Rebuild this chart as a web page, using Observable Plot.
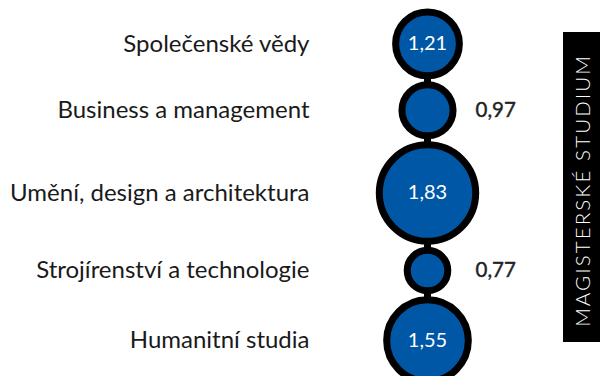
<!DOCTYPE html>
<html>
<head>
<meta charset="utf-8">
<script src="https://cdn.jsdelivr.net/npm/d3@7"></script>
<script src="https://cdn.jsdelivr.net/npm/@observablehq/plot@0.6"></script>
<style>
  html, body { margin: 0; padding: 0; background: #fff; }
  #wrap { position: relative; width: 600px; height: 376px; overflow: hidden; font-family: Lato, sans-serif; }
  #band { position: absolute; left: 563px; top: 32px; width: 37px; height: 310px; background: #000;
          display: flex; align-items: center; justify-content: center; }
  #band span { color: #fff; font-family: Lato, sans-serif; font-size: 20.5px; font-weight: 300; letter-spacing: 2.1px; writing-mode: vertical-rl; transform: rotate(180deg) translateY(-3px); white-space: nowrap; }
</style>
</head>
<body>
<div id="wrap"><div id="band"><span id="bandText"></span></div></div>
<script>
const categories = ["Společenské vědy", "Business a management", "Umění, design a architektura", "Strojírenství a technologie", "Humanitní studia"];
const values = [1.21, 0.97, 1.83, 0.77, 1.55];
const valueLabels = ["1,21", "0,97", "1,83", "0,77", "1,55"];
const groupLabel = "MAGISTERSKÉ STUDIUM";

document.getElementById("bandText").textContent = groupLabel;

// layout constants
const rMax = 48.2;          // radius (stroke centre) for max value
const strokeW = 7;
const gap = 2;
const topPad = 8;
const rDomainMax = d3.max(values);
const rPx = v => v / rDomainMax * rMax;

// stack circles vertically (derived from data through the radius mapping)
const outer = values.map(v => rPx(v) + strokeW / 2);
const centers = [];
values.forEach((v, i) => {
  if (i === 0) centers.push(topPad + outer[0]);
  else centers.push(centers[i - 1] + outer[i - 1] + gap + outer[i]);
});

const group = "Magisterské studium";
const data = categories.map((c, i) => ({
  category: c, value: values[i], label: valueLabels[i], pos: centers[i], group,
  inside: values[i] >= 1
}));

const chart = Plot.plot({
  width: 600,
  height: 376,
  margin: 0,
  style: { fontFamily: "Lato, sans-serif", background: "transparent" },
  x: { type: "point", domain: [group], range: [427, 427], axis: null },
  y: { type: "linear", domain: [0, 376], range: [0, 376], axis: null },
  r: { type: "linear", domain: [0, rDomainMax], range: [0, rMax] },
  marks: [
    Plot.link([{ group, y1: d3.min(centers), y2: d3.max(centers) }], {
      x1: "group", x2: "group", y1: "y1", y2: "y2", stroke: "#000", strokeWidth: 7
    }),
    Plot.dot(data, { x: "group", y: "pos", r: "value", fill: "#0057a6", stroke: "#000", strokeWidth: strokeW }),
    Plot.text(data.filter(d => d.inside), {
      x: "group", y: "pos", text: "label", fill: "#fff", fontSize: 20, fontWeight: 400
    }),
    Plot.text(data.filter(d => !d.inside), {
      x: "group", y: "pos", text: "label", fill: "#222", fontSize: 20.5, fontWeight: 400,
      stroke: "#222", strokeWidth: 0.4, textAnchor: "start", dx: 48
    }),
    Plot.text(data, {
      x: "group", y: "pos", text: "category", fill: "#1a1a1a", fontSize: 24, fontWeight: 400,
      textAnchor: "end", dx: -118
    })
  ]
});
document.getElementById("wrap").prepend(chart);
chart.style.position = "absolute";
chart.style.left = "0";
chart.style.top = "0";
</script>
</body>
</html>
